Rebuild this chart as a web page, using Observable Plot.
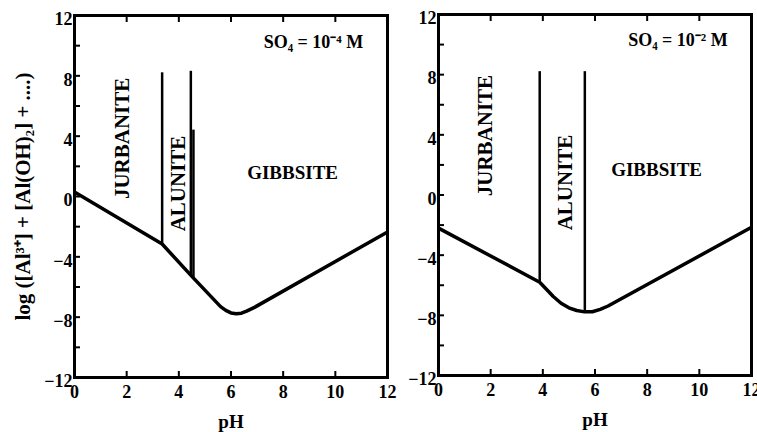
<!DOCTYPE html>
<html>
<head>
<meta charset="utf-8">
<script src="https://cdn.jsdelivr.net/npm/d3@7"></script>
<script src="https://cdn.jsdelivr.net/npm/@observablehq/plot@0.6"></script>
<style>
  body { margin: 0; background: white; }
  #wrap { position: relative; width: 757px; height: 432px; background: white; overflow: hidden; }
  #wrap svg { position: absolute; top: 0; overflow: visible; }
</style>
</head>
<body>
<div id="wrap"></div>
<script>
// ---- data ----
const pHTicks = [0, 2, 4, 6, 8, 10, 12];
const pHMinor = [2, 4, 6, 8, 10];
const logTicks = [12, 8, 4, 0, -4, -8, -12];
const logMinor = [10, 8, 6, 4, 2, 0, -2, -4, -6, -8, -10];
const panelTitles = ["SO₄ = 10⁻⁴ M", "SO₄ = 10⁻² M"];
const yLabel = "log ([Al³⁺] + [Al(OH)₂] + ....)";
const xLabel = "pH";

// panel 1: SO4 = 1e-4 M, solubility curve
const curveA_pH  = [0, 3.36, 4.5, 5.6, 5.8, 6.0, 6.2, 6.4, 6.6, 6.9, 12];
const curveA_log = [0.3, -3.15, -5.3, -7.3, -7.55, -7.72, -7.78, -7.74, -7.6, -7.35, -2.35];
// phase boundaries (vertical)
const boundA_pH   = [3.36, 4.46, 4.56];
const boundA_low  = [-3.15, -5.3, -5.45];
const boundA_high = [8.2, 8.3, 4.4];

// panel 2: SO4 = 1e-2 M
const curveB_pH  = [0, 3.88, 4.1, 4.4, 4.7, 5.0, 5.3, 5.6, 5.9, 6.2, 6.5, 12];
const curveB_log = [-2.2, -5.8, -6.2, -6.75, -7.2, -7.5, -7.68, -7.77, -7.76, -7.6, -7.38, -2.15];
const boundB_pH   = [3.88, 5.61];
const boundB_low  = [-5.8, -7.75];
const boundB_high = [8.2, 8.2];

// field labels
const fieldNames = ["JURBANITE", "ALUNITE", "GIBBSITE"];
const fieldA_pH  = [1.84, 3.99, 8.36];
const fieldA_log = [3.85, 0.86, 1.55];
const fieldB_pH  = [1.8, 4.87, 8.36];
const fieldB_log = [3.95, 0.83, 1.65];
const fieldRot = [-90, -90, 0];
const titlePos_pH = [9.16, 9.18];
const titlePos_log = [10.2, 10.3];

const FONT = "Liberation Serif, Times New Roman, serif";

function panel(opts) {
  const curve = opts.cpH.map((x, i) => ({pH: x, log: opts.clog[i]}));
  const bounds = opts.bpH.map((x, i) => ({pH: x, lo: opts.blo[i], hi: opts.bhi[i]}));
  const fields = fieldNames.map((n, i) => ({name: n, pH: opts.fpH[i], log: opts.flog[i], rot: fieldRot[i]}));
  const marks = [
    // inward ticks
    Plot.axisY(logMinor, {anchor: "left", tickSize: 6, dx: 6, tickFormat: () => "", label: null, stroke: "black", strokeWidth: 2}),
    Plot.axisX(pHMinor, {anchor: "bottom", tickSize: 6, dy: -6, tickFormat: () => "", label: null, stroke: "black", strokeWidth: 2}),
    Plot.axisX(pHMinor, {anchor: "top", tickSize: 6, dy: 6, tickFormat: () => "", label: null, stroke: "black", strokeWidth: 2}),
    // tick labels
    Plot.axisY(logTicks, {anchor: "left", tickSize: 0, tickPadding: 2, dy: 4, label: null,
      fontSize: 18, fontWeight: "bold", fill: "black"}),
    Plot.axisX(pHTicks, {anchor: "bottom", tickSize: 0, tickPadding: 8, label: null,
      fontSize: 18, fontWeight: "bold", fill: "black"}),
    Plot.text([xLabel], {frameAnchor: "bottom", dy: 44, lineAnchor: "middle", text: d => d, fontSize: 19, fontWeight: "bold", fill: "black"}),
    Plot.frame({stroke: "black", strokeWidth: 3}),
    Plot.line(curve, {x: "pH", y: "log", stroke: "black", strokeWidth: 3.5, strokeLinejoin: "round", strokeLinecap: "butt"}),
    Plot.ruleX(bounds, {x: "pH", y1: "lo", y2: "hi", stroke: "black", strokeWidth: 2.5}),
    Plot.text(fields.filter(d => d.rot !== 0), {x: "pH", y: "log", text: "name", rotate: -90, fontSize: 21, fontWeight: "bold", fill: "black"}),
    Plot.text(fields.filter(d => d.rot === 0), {x: "pH", y: "log", text: "name", fontSize: 19, fontWeight: "bold", fill: "black"}),
    Plot.text([opts.title], {x: () => opts.tpH, y: () => opts.tlog, text: d => d, fontSize: 18, fontWeight: "bold", fill: "black"})
  ];
  if (opts.yLabel) {
    marks.push(Plot.text([opts.yLabel], {frameAnchor: "left", dx: -51, rotate: -90, textAnchor: "middle", lineAnchor: "middle",
      text: d => d, fontSize: 21, fontWeight: "bold", fill: "black"}));
  }
  return Plot.plot({
    width: opts.width, height: 432,
    marginLeft: opts.ml, marginRight: opts.mr, marginTop: opts.mt, marginBottom: opts.mb,
    x: {domain: [0, 12], axis: null},
    y: {domain: [-12, 12], axis: null},
    style: {fontFamily: FONT, background: "transparent", overflow: "visible", color: "black"},
    marks
  });
}

const left = panel({width: 390, ml: 74, mr: 3, mt: 15, mb: 55,
  cpH: curveA_pH, clog: curveA_log, bpH: boundA_pH, blo: boundA_low, bhi: boundA_high,
  fpH: fieldA_pH, flog: fieldA_log, title: panelTitles[0], tpH: titlePos_pH[0], tlog: titlePos_log[0], yLabel});
const right = panel({width: 367, ml: 48, mr: 6, mt: 14, mb: 57,
  cpH: curveB_pH, clog: curveB_log, bpH: boundB_pH, blo: boundB_low, bhi: boundB_high,
  fpH: fieldB_pH, flog: fieldB_log, title: panelTitles[1], tpH: titlePos_pH[1], tlog: titlePos_log[1]});
left.style.left = "0px";
right.style.left = "390px";
const wrap = document.getElementById("wrap");
wrap.appendChild(left);
wrap.appendChild(right);
</script>
</body>
</html>
